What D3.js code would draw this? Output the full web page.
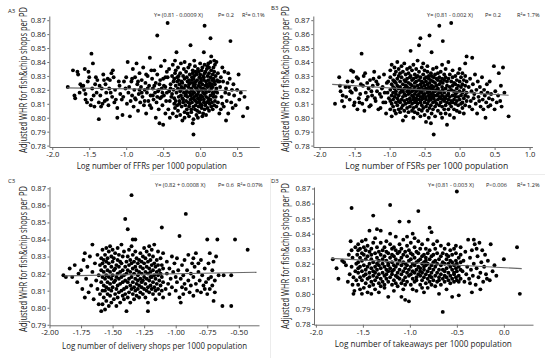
<!DOCTYPE html>
<html><head><meta charset="utf-8">
<script src="https://cdn.jsdelivr.net/npm/d3@7"></script>
<style>body{margin:0;background:#fff}svg{display:block}text{font-family:"Open Sans",sans-serif;fill:#222}</style>
</head><body><svg id="c" width="550" height="358"></svg>
<script>
// ---------- data ----------
const panelLabels = ["A3", "B3", "C3", "D3"];
const yTitle = "Adjusted WHR for fish&chip shops per PD";
const xTitles = ["Log number of FFRs per 1000 population", "Log number of FSRs per 1000 population",
  "Log number of delivery shops per 1000 population", "Log number of takeaways per 1000 population"];
const equations = [["Y= (0.81 - 0.0009 X)", "P= 0.2", "R\u00B2= 0.1%"], ["Y= (0.81 - 0.002 X)", "P= 0.2", "R\u00B2= 1.7%"],
  ["Y= (0.82 + 0.0008 X)", "P= 0.6", "R\u00B2= 0.07%"], ["Y= (0.81 - 0.003 X)", "P<0.006", "R\u00B2= 1.2%"]];
const xTicksA = [-2.0, -1.5, -1.0, -0.5, 0.0, 0.5];
const xTicksB = [-2.0, -1.5, -1.0, -0.5, 0.0, 0.5, 1.0];
const xTicksC = [-2.00, -1.75, -1.50, -1.25, -1.00, -0.75, -0.50];
const xTicksD = [-2.0, -1.5, -1.0, -0.5, 0.0];
const yTicksABD = [0.78, 0.79, 0.80, 0.81, 0.82, 0.83, 0.84, 0.85, 0.86, 0.87];
const yTicksC = [0.79, 0.80, 0.81, 0.82, 0.83, 0.84, 0.85, 0.86, 0.87];
// fitted lines: [xStart, xEnd, intercept, slope]
const fitA = [-1.80, 0.63, 0.8199, -0.00086];
const fitB = [-1.82, 0.70, 0.8183, -0.0031];
const fitC = [-1.88, -0.36, 0.8213, 0.0014];
const fitD = [-1.84, 0.19, 0.8174, -0.00335];
// points: rows of [x, y1, y2, ...]
const ffrPoints = [
[-1.79,.822],[-1.72,.834],[-1.69,.814],[-1.66,.833],[-1.65,.831],[-1.62,.824],[-1.60,.822],[-1.58,.823],[-1.57,.820],[-1.55,.817,.813],[-1.56,.835],[-1.53,.811],[-1.51,.833],[-1.50,.829],[-1.47,.846,.813],[-1.46,.821],[-1.45,.839],[-1.43,.808],[-1.42,.824],[-1.41,.829],[-1.40,.818],[-1.39,.827],[-1.37,.811,.799],[-1.35,.816],[-1.33,.821],[-1.32,.810],[-1.31,.831],[-1.30,.827],[-1.28,.824],[-1.27,.818],[-1.26,.813],[-1.24,.809],[-1.23,.821],[-1.22,.827],[-1.19,.815],[-1.18,.834],[-1.17,.829],[-1.15,.820],[-1.14,.813],[-1.12,.807,.800],[-1.09,.823],[-1.08,.817],[-1.06,.813],[-1.05,.802],[-1.03,.826],[-1.01,.821],[-1.00,.829],[-0.99,.810],[-1.63,.818],[-1.70,.816],[-1.52,.826],[-1.44,.816],[-1.36,.823],[-1.29,.812],[-1.21,.818],[-1.16,.811],[-1.10,.826],[-1.04,.815],[-1.34,.808],[-1.48,.809],[-1.20,.832],[-1.25,.828],
[-0.98,.840],[-0.97,.818],[-0.96,.822],[-0.95,.801],[-0.94,.812],[-0.93,.826],[-0.92,.816,.828],[-0.91,.835],[-0.90,.808],[-0.89,.820],[-0.88,.829,.814],[-0.87,.813],[-0.86,.839],[-0.85,.824],[-0.84,.805,.826],[-0.83,.817],[-0.82,.832,.820],[-0.81,.811],[-0.80,.822],[-0.79,.827,.818],[-0.78,.815],[-0.77,.836],[-0.76,.809],[-0.75,.820,.812],[-0.74,.825],[-0.73,.803,.831],[-0.72,.818],[-0.71,.830,.821],[-0.70,.812],[-0.69,.823],[-0.68,.843,.809],[-0.67,.816],[-0.66,.807,.834],[-0.65,.828],[-0.64,.821,.816],[-0.63,.813],[-0.62,.834,.823],[-0.61,.818],[-0.60,.800,.825],[-0.59,.811],[-0.58,.859,.831,.815],[-0.57,.819],[-0.56,.806,.820],[-0.55,.796,.824],[-0.54,.814,.827],[-0.53,.837],[-0.52,.821,.815],[-0.51,.809,.818],[-0.50,.795,.828],[-0.49,.816,.823],[-0.48,.841],[-0.47,.822,.803,.829],[-0.46,.812],[-0.45,.833,.818],[-0.44,.868],
[-0.43,.806],[-0.42,.819],[-0.44,.829],[-0.41,.812,.800],[-0.40,.824,.821],[-0.42,.835],[-0.39,.815],[-0.38,.830,.817],[-0.37,.803,.838],[-0.36,.826,.820],[-0.35,.810,.814,.828],[-0.34,.832,.807,.841],[-0.33,.823,.812,.834],[-0.32,.818,.801,.847],[-0.31,.826,.809,.829],[-0.30,.821,.805,.836],[-0.29,.830,.815,.827],[-0.28,.824,.812,.810],[-0.27,.819,.802,.832],[-0.26,.816,.839,.820],[-0.25,.822,.808,.826],[-0.24,.814,.798,.825],[-0.23,.811,.830,.813],[-0.22,.818,.835,.821],[-0.21,.804,.828,.800,.840],[-0.20,.816,.809,.823],[-0.19,.817,.833,.812],[-0.18,.806,.819,.829],[-0.17,.826,.803,.815],[-0.16,.811,.822,.836],[-0.15,.827,.808,.824,.801],[-0.14,.818,.831,.810,.838],[-0.13,.813,.816,.825,.852],[-0.12,.820,.806,.821,.804],[-0.11,.814,.829,.811,.827],[-0.10,.834,.817,.819,.832,.796],[-0.09,.823,.808,.825,.799,.828,.788],[-0.08,.813,.830,.815,.841,.818],[-0.07,.822,.806,.824,.837],[-0.06,.812,.833,.809,.826],[-0.05,.802,.816,.821,.831],[-0.04,.820,.811,.827,.805],[-0.03,.814,.835,.800,.817],[-0.02,.808,.823,.833,.819],[-0.01,.829,.812,.825,.804],[0.00,.815,.839,.810,.822,.831],[0.01,.816,.828,.813,.826],[0.02,.807,.820,.834,.809],[0.03,.801,.815,.824,.836],[0.04,.818,.830,.803,.821],[0.05,.811,.827,.847,.813,.829],[0.06,.832,.806,.817,.838,.866],[0.07,.823,.809,.820,.833],[0.08,.815,.826,.802,.818],[0.09,.811,.824,.835],[0.10,.830,.807,.822,.837],[0.11,.814,.827,.812,.839],[0.12,.805,.819,.832,.836],[0.13,.825,.810,.823],[0.14,.816,.829,.857,.813,.840],[0.15,.808,.821,.834,.844],[0.16,.827,.811,.824],[0.17,.818,.831,.806,.822],[0.18,.815,.828,.836,.817],[0.19,.809,.826,.833,.841],[0.20,.812,.824,.838],[0.21,.819,.830,.815],[0.22,.808,.821,.840],[0.23,.827,.818],[0.24,.811,.826,.832],
[0.26,.803,.826],[0.27,.822],[0.28,.829,.806],[0.29,.815],[0.30,.810,.836],[0.31,.826],[0.32,.808],[0.33,.833],[0.34,.818],[0.35,.798,.821],[0.36,.812],[0.37,.825],[0.38,.803,.832],[0.39,.817],[0.40,.828],[0.41,.855],[0.42,.811],[0.43,.820],[0.44,.807],[0.45,.824],[0.46,.816],[0.48,.809],[0.50,.820],[0.52,.831],[0.53,.813],[0.55,.818],[0.58,.801],[0.60,.815],[0.64,.807]
];
const fsrPoints = [
[-1.78,.810],[-1.72,.829],[-1.71,.823],[-1.70,.819],[-1.68,.812],[-1.67,.816],[-1.65,.808],[-1.63,.822],[-1.62,.815],[-1.60,.826],[-1.58,.822],[-1.57,.813],[-1.56,.819],[-1.55,.834],[-1.54,.818],[-1.53,.826],[-1.52,.833],[-1.51,.809],[-1.50,.811],[-1.49,.821],[-1.48,.820],[-1.47,.829],[-1.46,.806],[-1.45,.828],[-1.44,.814],[-1.43,.811],[-1.42,.817],[-1.41,.824],[-1.40,.846],[-1.39,.810],[-1.38,.823],[-1.37,.830],[-1.36,.805],[-1.35,.832],[-1.34,.818],[-1.33,.813],[-1.32,.825],[-1.31,.815],[-1.30,.821],[-1.29,.808],[-1.28,.827],[-1.27,.809],[-1.26,.819],[-1.25,.816],[-1.24,.823],[-1.23,.828],[-1.22,.833],[-1.21,.814],[-1.20,.812],[-1.19,.826],[-1.18,.819],[-1.17,.824],[-1.16,.806],[-1.15,.829],[-1.14,.817],[-1.13,.807],[-1.12,.815],[-1.11,.821],[-1.10,.822],[-1.09,.811],[-1.08,.831],[-1.07,.818],[-1.06,.811],[-1.05,.803],[-1.04,.825],[-1.03,.818],[-1.02,.826],[-1.01,.814],
[-0.99,.812,.820,.829,.806,.834],[-0.97,.816,.824,.810,.838,.801],[-0.95,.818,.827,.813,.808,.822],[-0.93,.821,.831,.815,.805,.826,.836],[-0.91,.811,.819,.825,.833,.803,.817],[-0.89,.814,.823,.828,.809,.840],[-0.87,.816,.821,.830,.806,.812,.835],[-0.85,.818,.826,.811,.832,.804,.822],[-0.83,.813,.820,.829,.807,.837],[-0.81,.815,.824,.833,.809,.819,.798],[-0.79,.812,.821,.827,.805,.817,.839],[-0.77,.816,.823,.831,.810,.801,.826],[-0.75,.813,.819,.828,.807,.835,.822],[-0.73,.817,.825,.811,.832,.804,.820],[-0.71,.814,.821,.829,.808,.836,.818],[-0.70,.848,.812,.824,.830],[-0.68,.816,.823,.810,.805,.827,.834,.819],[-0.66,.813,.820,.828,.807,.838,.815,.800],[-0.64,.817,.825,.811,.831,.822,.804],[-0.62,.814,.819,.826,.808,.835,.812,.829],[-0.60,.816,.823,.830,.810,.803,.820,.841],[-0.58,.852,.813,.821,.827,.806,.833,.817],[-0.56,.857,.815,.824,.811,.829,.819,.801],[-0.54,.818,.826,.809,.836,.813,.822,.805],[-0.52,.814,.820,.831,.807,.825,.816,.839],[-0.50,.817,.823,.811,.828,.802,.834,.820],[-0.48,.815,.821,.829,.808,.813,.826,.797],[-0.46,.818,.824,.810,.833,.805,.820,.837],[-0.44,.816,.822,.828,.812,.800,.830],[-0.43,.859,.819,.825,.807,.814],[-0.41,.813,.821,.832,.809,.817,.827,.796],[-0.40,.847,.815,.823,.803,.830],[-0.38,.818,.826,.811,.835,.820,.806],[-0.37,.788,.814,.822,.829,.816],[-0.35,.812,.819,.825,.808,.831,.801],[-0.33,.816,.823,.810,.828,.836,.820],[-0.31,.813,.821,.827,.805,.817,.832],[-0.29,.866,.815,.824,.809,.819,.829],[-0.27,.811,.818,.826,.803,.833,.814],[-0.25,.816,.822,.808,.828,.838,.800],[-0.24,.855,.813,.820,.825],[-0.22,.812,.818,.827,.806,.831,.815],[-0.20,.814,.821,.809,.829,.835,.803],[-0.18,.795,.816,.823,.811,.826],[-0.16,.813,.819,.828,.806,.840,.817],[-0.14,.815,.822,.810,.831,.802],[-0.12,.868,.812,.820,.826,.808],[-0.10,.816,.823,.811,.829,.834],[-0.08,.813,.819,.806,.825,.800],[-0.06,.817,.824,.810,.830,.815],[-0.04,.812,.821,.805,.827,.818],[-0.02,.815,.823,.809,.832],[0.00,.813,.819,.826,.804,.835],[0.02,.816,.822,.810,.829],[0.04,.811,.818,.824,.807,.832],[0.06,.814,.820,.803,.827],[0.08,.816,.823,.809,.830,.839],[0.10,.844,.812,.818,.826],
[0.12,.815],[0.13,.822],[0.14,.808],[0.15,.828],[0.16,.812],[0.17,.819],[0.18,.843,.806],[0.19,.824],[0.20,.814],[0.21,.817],[0.22,.831],[0.23,.810],[0.24,.820],[0.25,.803],[0.26,.826],[0.27,.815],[0.28,.812],[0.29,.822],[0.30,.808],[0.31,.818],[0.32,.829],[0.33,.813],[0.34,.806],[0.35,.820],[0.36,.816],[0.37,.800],[0.38,.811],[0.39,.824],[0.40,.818],[0.41,.808],[0.42,.814],[0.43,.826],[0.44,.809],[0.45,.817],[0.47,.813],[0.49,.837],[0.50,.806],[0.51,.819],[0.53,.811],[0.55,.816],[0.56,.832],[0.58,.812],[0.59,.823],[0.60,.808],[0.62,.836],[0.64,.818],[0.70,.801]
];
const deliveryPoints = [
[-1.89,.819],[-1.87,.818],[-1.84,.823],[-1.82,.818],[-1.80,.825],[-1.78,.815],[-1.77,.820],[-1.75,.822],[-1.74,.811],[-1.73,.828],[-1.72,.806,.832],[-1.71,.817],[-1.70,.824],[-1.69,.809],[-1.68,.830],[-1.67,.813],[-1.66,.837,.821],[-1.65,.805],[-1.64,.826],[-1.63,.816],[-1.62,.811,.831],[-1.61,.819,.802],[-1.60,.825,.808],
[-1.59,.798,.815,.822,.829],[-1.58,.810,.818,.826,.834,.802],[-1.57,.806,.813,.821,.828],[-1.56,.799,.817,.824,.831,.810],[-1.55,.812,.819,.827,.835,.804],[-1.54,.808,.815,.822,.829],[-1.53,.801,.811,.818,.826,.833],[-1.52,.807,.814,.821,.836],[-1.51,.803,.810,.817,.824,.830],[-1.50,.812,.819,.827,.834],[-1.49,.805,.815,.822,.829],[-1.48,.808,.816,.823,.832],[-1.47,.811,.818,.825,.801],[-1.46,.806,.813,.820,.828,.835],[-1.45,.809,.817,.824,.831],[-1.44,.803,.814,.821,.827],[-1.43,.810,.818,.826,.837],[-1.42,.807,.815,.822,.830],[-1.41,.811,.819,.833,.805],[-1.40,.852,.808,.816,.824],[-1.39,.812,.820,.827,.798],[-1.38,.846,.806,.815,.822,.830],[-1.37,.809,.817,.825,.834],[-1.36,.813,.821,.828,.803],[-1.35,.866,.811,.818,.826,.836],[-1.34,.808,.815,.823,.831,.840],[-1.33,.812,.820,.827,.805],[-1.32,.810,.817,.824,.833,.840],[-1.31,.814,.822,.829,.807],[-1.30,.811,.819,.826,.816],[-1.29,.813,.821,.828,.806],[-1.28,.809,.817,.824,.832],[-1.27,.812,.820,.827,.815],[-1.26,.808,.816,.823,.830],[-1.25,.811,.818,.826,.835],[-1.24,.814,.821,.829,.806],[-1.23,.810,.817,.824,.833],[-1.22,.812,.820,.827,.798,.803],[-1.21,.809,.816,.823,.831,.836],[-1.20,.813,.821,.828,.818],[-1.19,.811,.818,.825,.834],[-1.18,.815,.822,.830,.808],[-1.17,.812,.819,.826,.837],[-1.16,.810,.817,.824,.805],[-1.15,.814,.821,.828],[-1.14,.811,.819,.825,.833],[-1.13,.808,.816,.822],[-1.12,.813,.820,.829],[-1.11,.847,.810,.818,.825],[-1.10,.806,.815,.823,.832],
[-1.08,.811],[-1.07,.820,.827],[-1.06,.814],[-1.05,.808,.823],[-1.04,.817],[-1.03,.830,.812],[-1.02,.821],[-1.01,.826],[-1.00,.810,.818],[-0.99,.829,.815],[-0.98,.822],[-0.97,.842,.806],[-0.96,.817,.803],[-0.95,.812,.825],[-0.94,.808,.819],[-0.93,.814,.828],[-0.92,.855,.811],[-0.91,.822],[-0.90,.816,.831],[-0.89,.809],[-0.88,.820,.813],[-0.87,.826],[-0.86,.818,.807,.829],[-0.85,.824],[-0.84,.814,.832],[-0.83,.810],[-0.82,.821,.826],[-0.81,.816],[-0.80,.828,.809],[-0.79,.819],[-0.78,.813],[-0.77,.823,.811],[-0.76,.815],[-0.75,.840,.808],[-0.74,.826,.817],[-0.73,.811,.832],[-0.72,.818],[-0.71,.813,.822],[-0.70,.804,.827],[-0.69,.816,.809],[-0.68,.830],[-0.67,.840],[-0.66,.819],[-0.63,.801],[-0.62,.819],[-0.56,.801,.819],[-0.53,.840],[-0.43,.834]
];
const takeawayPoints = [
[-1.82,.823],[-1.78,.817],[-1.76,.810],[-1.72,.822],[-1.70,.821],[-1.68,.819],[-1.66,.808],[-1.65,.826],[-1.64,.813],[-1.63,.835],[-1.62,.829,.818,.857],[-1.61,.824,.806],[-1.60,.800,.811],[-1.59,.802],[-1.58,.831,.815],[-1.57,.820,.809],[-1.56,.826],
[-1.55,.806,.814,.821,.829,.833,.817],[-1.53,.803,.811,.824,.830,.818],[-1.51,.809,.815,.822,.827,.835,.800],[-1.49,.812,.819,.826,.804,.831],[-1.47,.807,.816,.823,.829,.836,.813],[-1.45,.810,.818,.825,.801,.832],[-1.43,.814,.820,.828,.805,.842,.811],[-1.41,.808,.817,.823,.830,.800,.826],[-1.39,.852,.812,.815,.821,.834,.806],[-1.37,.809,.818,.827,.837,.803,.814],[-1.35,.811,.816,.824,.831,.843,.820],[-1.33,.807,.813,.819,.828,.801,.822],[-1.31,.810,.817,.826,.834,.842,.805],[-1.29,.814,.820,.823,.829,.808],[-1.27,.806,.812,.818,.825,.831,.804],[-1.25,.810,.816,.822,.828,.835,.813],[-1.23,.808,.815,.820,.827,.798,.819],[-1.21,.859,.811,.817,.824,.833,.840],[-1.19,.806,.813,.821,.826,.830,.815],[-1.17,.809,.816,.819,.825,.831,.802],[-1.15,.812,.818,.823,.829,.838,.807],[-1.13,.805,.814,.820,.827,.811],[-1.11,.848,.810,.816,.822,.828,.833],[-1.09,.807,.813,.819,.824,.830,.798],[-1.07,.809,.815,.821,.826,.836,.803],[-1.05,.811,.817,.820,.828,.796,.806],[-1.03,.808,.814,.819,.825,.832,.838],[-1.01,.848,.812,.816,.822,.829,.795],[-0.99,.806,.813,.818,.823,.827,.834],[-0.97,.810,.815,.820,.826,.840,.803],[-0.95,.808,.814,.819,.824,.831,.837],[-0.93,.811,.816,.821,.828,.802,.809],[-0.91,.855,.813,.818,.822,.827,.835],[-0.89,.806,.812,.817,.823,.830,.815],[-0.87,.809,.814,.820,.825,.833,.804],[-0.85,.811,.816,.821,.826,.801,.818],[-0.83,.807,.813,.819,.824,.830,.822],[-0.81,.810,.815,.820,.827,.836,.804],[-0.79,.812,.817,.823,.829,.844,.808],[-0.77,.806,.814,.819,.825,.841,.811],[-0.75,.809,.816,.821,.826,.833],[-0.73,.812,.818,.822,.830,.805],[-0.71,.808,.814,.820,.827,.835],[-0.69,.811,.816,.823,.800,.809],[-0.67,.813,.819,.825,.832,.806],[-0.65,.788,.810,.816,.821,.827],[-0.63,.808,.815,.820,.830,.812],[-0.61,.811,.817,.823,.803,.826],[-0.59,.809,.814,.820,.825,.833],[-0.57,.812,.818,.822,.829,.807],[-0.55,.810,.816,.798,.821,.826],[-0.53,.808,.814,.819,.830,.813],[-0.51,.811,.817,.822,.827,.832],[-0.50,.868,.809,.815,.820],[-0.48,.812,.818,.808,.799,.824],[-0.46,.810,.816,.821,.826,.831],
[-0.44,.815],[-0.43,.822],[-0.42,.808],[-0.41,.828],[-0.40,.813],[-0.39,.818],[-0.38,.836],[-0.37,.810],[-0.36,.824,.807],[-0.35,.816],[-0.34,.801,.829],[-0.33,.812],[-0.32,.836,.820],[-0.31,.833],[-0.30,.806],[-0.29,.817,.830],[-0.28,.825],[-0.27,.811],[-0.26,.834],[-0.25,.814,.803],[-0.24,.821],[-0.23,.829],[-0.22,.808],[-0.21,.818],[-0.20,.826],[-0.19,.813],[-0.18,.810],[-0.17,.822],[-0.15,.809],[-0.14,.833],[-0.12,.815],[-0.10,.819],[-0.08,.812],[0.00,.823],[0.14,.831],[0.17,.800]
];

// ---------- layout ----------
const panels = [
  {pts: ffrPoints, fit: fitA, xt: xTicksA, yt: yTicksABD, xd: [-2.04, 0.80], xr: [49.3, 259.3], yd: [0.779, 0.873], yr: [147, 16], xdec: 1,
   lab: [8, 13], ytc: [27, 80], xtc: [151.7, 169, 150], eq: [[154, 17], [218, 17], [242, 17]]},
  {pts: fsrPoints, fit: fitB, xt: xTicksB, yt: yTicksABD, xd: [-2.09, 1.04], xr: [313.3, 532.4], yd: [0.779, 0.873], yr: [147, 16], xdec: 1,
   lab: [271, 10], ytc: [289, 79], xtc: [426.7, 169, 163], eq: [[427, 17], [485, 17], [517, 17]]},
  {pts: deliveryPoints, fit: fitC, xt: xTicksC, yt: yTicksC, xd: [-2.0, -0.34], xr: [49.5, 259], yd: [0.7897, 0.871], yr: [325.3, 186.6], xdec: 2,
   lab: [8, 183], ytc: [27, 259], xtc: [154.5, 348.5, 185], eq: [[155, 186.5], [218, 186.5], [237, 186.5]]},
  {pts: takeawayPoints, fit: fitD, xt: xTicksD, yt: yTicksABD, xd: [-2.02, 0.31], xr: [314, 533], yd: [0.7795, 0.871], yr: [324.7, 187], xdec: 1,
   lab: [271, 183], ytc: [289, 256], xtc: [423.3, 347, 177], eq: [[428, 186.5], [486, 186.5], [517, 186.5]]}
];

const svg = d3.select("#c");
// faint frame lines visible in the reference image
svg.append("line").attr("x1", 150).attr("x2", 545).attr("y1", 174.5).attr("y2", 174.5).attr("stroke", "#ececec");
svg.append("line").attr("x1", 270.5).attr("x2", 270.5).attr("y1", 178).attr("y2", 358).attr("stroke", "#ececec");

function squeezedText(g, str, size, len, tf) {
  const t = g.append("text").attr("font-size", size).attr("text-anchor", "middle").attr("fill", "#222").text(str);
  const w = t.node().getComputedTextLength();
  t.attr("transform", tf + ` scale(${len / w},1)`);
  return t;
}

panels.forEach((p, i) => {
  const x = d3.scaleLinear().domain(p.xd).range(p.xr);
  const y = d3.scaleLinear().domain(p.yd).range(p.yr);
  const g = svg.append("g");

  const xa = g.append("g").attr("transform", `translate(0,${p.yr[0]})`)
    .call(d3.axisBottom(x).tickValues(p.xt).tickSize(3).tickSizeOuter(0).tickPadding(1.5)
      .tickFormat(d => d.toFixed(p.xdec)));
  const ya = g.append("g").attr("transform", `translate(${p.xr[0]},0)`)
    .call(d3.axisLeft(y).tickValues(p.yt).tickSize(2).tickSizeOuter(0).tickPadding(1.5)
      .tickFormat(d => d.toFixed(2)));
  [xa, ya].forEach(a => {
    a.select(".domain").attr("stroke", "#6e6e6e").attr("stroke-width", 1);
    a.selectAll(".tick line").attr("stroke", "#6e6e6e");
    a.selectAll("text").attr("font-size", 7.6).attr("fill", "#222").attr("font-family", "Open Sans, sans-serif");
  });

  const pts = p.pts.flatMap(r => r.slice(1).map(v => [r[0], v]));
  g.append("g").selectAll("circle").data(pts).join("circle")
    .attr("cx", d => x(d[0])).attr("cy", d => y(d[1])).attr("r", 1.95).attr("fill", "#000");

  const [x0, x1, b0, b1] = p.fit;
  g.append("line").attr("x1", x(x0)).attr("x2", x(x1)).attr("y1", y(b0 + b1 * x0)).attr("y2", y(b0 + b1 * x1))
    .attr("stroke", "#6a6a6a").attr("stroke-width", 1.1);

  g.append("text").attr("x", p.lab[0]).attr("y", p.lab[1]).attr("font-size", 6).attr("fill", "#222").text(panelLabels[i]);
  squeezedText(g, yTitle, 10, 146, `translate(${p.ytc[0]},${p.ytc[1]}) rotate(-90)`);
  squeezedText(g, xTitles[i], 9.2, p.xtc[2], `translate(${p.xtc[0]},${p.xtc[1]})`);
  equations[i].forEach((t, k) => {
    g.append("text").attr("x", p.eq[k][0]).attr("y", p.eq[k][1]).attr("font-size", 5.6).attr("fill", "#111").text(t);
  });
});
</script></body></html>
